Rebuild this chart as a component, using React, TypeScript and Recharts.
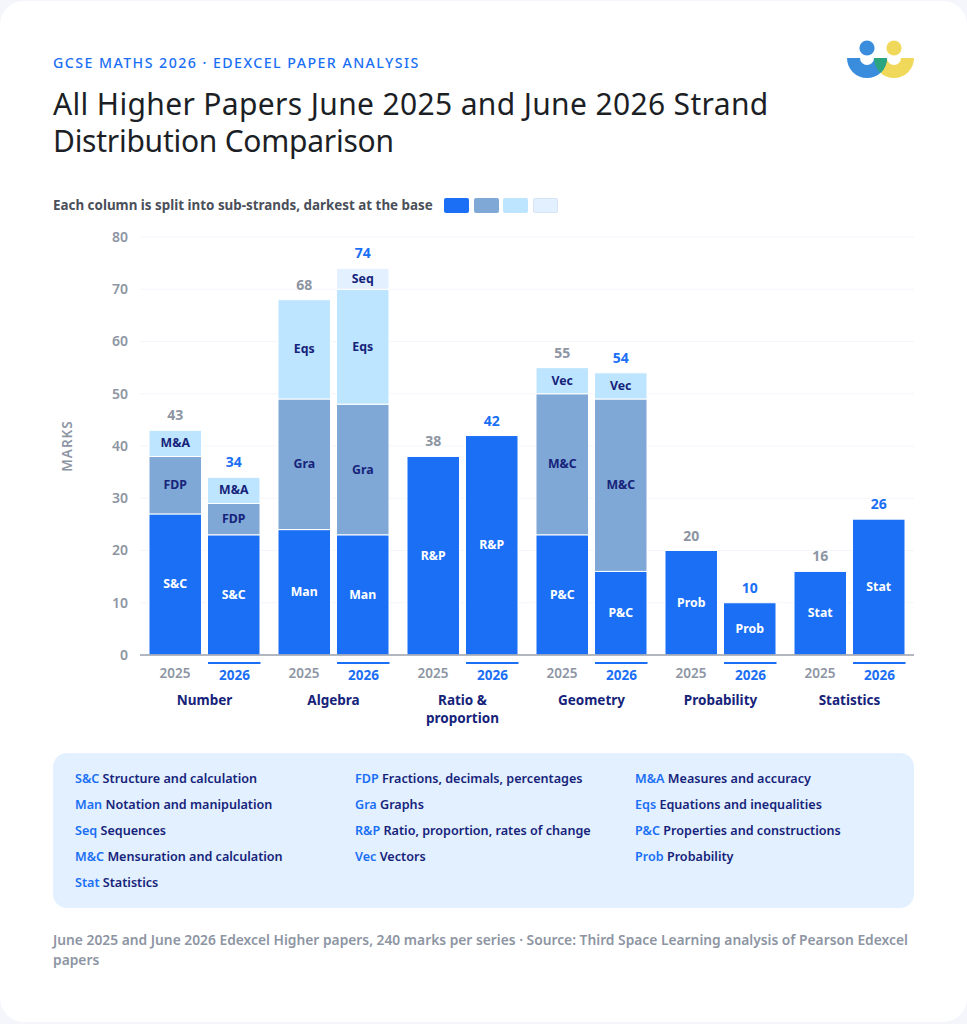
import { Bar, BarChart, CartesianGrid, Rectangle, XAxis, YAxis } from "recharts";

const FONT = "'Noto Sans', sans-serif";
const BLUE = "#1a6ff5";
const NAVY = "#16237a";
const GREY = "#8d95a3";

const categories = [["Number"], ["Algebra"], ["Ratio &", "proportion"], ["Geometry"], ["Probability"], ["Statistics"]];
const years = ["2025", "2026"];
const shades = [BLUE, "#7fa8d6", "#bde5ff", "#e2f0ff"];
const yTicks = [0, 10, 20, 30, 40, 50, 60, 70, 80];

// marks per sub-strand, darkest first, one list per category
const marks2025 = [[27, 11, 5], [24, 25, 19], [38], [23, 27, 5], [20], [16]];
const marks2026 = [[23, 6, 5], [23, 25, 22, 4], [42], [16, 33, 5], [10], [26]];
const names2025 = [["S&C", "FDP", "M&A"], ["Man", "Gra", "Eqs"], ["R&P"], ["P&C", "M&C", "Vec"], ["Prob"], ["Stat"]];
const names2026 = [["S&C", "FDP", "M&A"], ["Man", "Gra", "Eqs", "Seq"], ["R&P"], ["P&C", "M&C", "Vec"], ["Prob"], ["Stat"]];

const keyRows = [
  [["S&C", "Structure and calculation"], ["FDP", "Fractions, decimals, percentages"], ["M&A", "Measures and accuracy"]],
  [["Man", "Notation and manipulation"], ["Gra", "Graphs"], ["Eqs", "Equations and inequalities"]],
  [["Seq", "Sequences"], ["R&P", "Ratio, proportion, rates of change"], ["P&C", "Properties and constructions"]],
  [["M&C", "Mensuration and calculation"], ["Vec", "Vectors"], ["Prob", "Probability"]],
  [["Stat", "Statistics"]],
];

const sum = (list: number[]) => list.reduce((a, b) => a + b, 0);

const rows = categories.map((c, i) => {
  const row: Record<string, unknown> = { name: c.join(" "), index: i };
  shades.forEach((_, s) => {
    row["a" + s] = marks2025[i][s];
    row["b" + s] = marks2026[i][s];
  });
  return row;
});

// one stacked segment, its short name, and the column total on the top segment
function segment(marks: number[][], names: string[][], shade: number, totalColor: string) {
  return (p: any) => {
    const i = p.payload.index;
    const text = names[i][shade];
    if (!text) return <g />;
    const cx = p.x + p.width / 2;
    return (
      <g>
        <Rectangle x={p.x} y={p.y} width={p.width} height={p.height} fill={p.fill} stroke="#fff" strokeWidth={1} />
        <text x={cx} y={p.y + p.height / 2 + 4} textAnchor="middle" fontFamily={FONT} fontSize={12.3} fontWeight={700} fill={shade === 0 ? "#fff" : NAVY}>
          {text}
        </text>
        {shade === names[i].length - 1 && (
          <text x={cx} y={p.y - 10} textAnchor="middle" fontFamily={FONT} fontSize={14} fontWeight={700} fill={totalColor}>
            {sum(marks[i])}
          </text>
        )}
      </g>
    );
  };
}

function CategoryTick(props: any) {
  const { x, y, payload } = props;
  const lines = categories[payload.index];
  return (
    <g fontFamily={FONT}>
      <text x={x - 29.5} y={y + 15} textAnchor="middle" fontSize={13.5} fontWeight={600} fill={GREY}>{years[0]}</text>
      <rect x={x + 3.5} y={y - 1} width={52.5} height={2} fill={BLUE} />
      <text x={x + 30} y={y + 17} textAnchor="middle" fontSize={13.5} fontWeight={700} fill={BLUE}>{years[1]}</text>
      {lines.map((l: string, i: number) => (
        <text key={l} x={x} y={y + 42 + i * 18} textAnchor="middle" fontSize={13.5} fontWeight={700} fill={NAVY}>{l}</text>
      ))}
    </g>
  );
}

function Logo() {
  return (
    <svg width={70} height={42} viewBox="0 0 70 42" style={{ position: "absolute", left: 846, top: 40 }}>
      <circle cx={21} cy={8} r={7.6} fill="#3a8ddd" />
      <circle cx={48} cy={8} r={7.6} fill="#f0d95a" />
      <path d="M28 18 H68 A20 20 0 0 1 28 18 Z M41 18 A7 7 0 0 0 55 18 Z" fill="#f0d95a" fillRule="evenodd" />
      <path d="M1 18 H41 A20 20 0 0 1 1 18 Z M14 18 A7 7 0 0 0 28 18 Z" fill="#3a8ddd" fillRule="evenodd" />
      <path d="M28 18 H41 A20 20 0 0 1 34.5 32.76 A20 20 0 0 1 28 18 Z" fill="#2aa57f" />
    </svg>
  );
}

export default function App() {
  return (
    <div style={{ position: "absolute", left: 0, top: 0, width: 967, height: 1024, background: "#f4f6fc", overflow: "hidden", fontFamily: FONT }}>
      <div style={{ position: "absolute", left: 0, top: 1, width: 967, height: 1021, background: "#fff", borderRadius: 24 }} />
      <div style={{ position: "absolute", left: 53, top: 54, fontSize: 14.2, fontWeight: 500, letterSpacing: 1.45, color: BLUE, lineHeight: "18px", whiteSpace: "nowrap" }}>
        GCSE MATHS 2026 · EDEXCEL PAPER ANALYSIS
      </div>
      <div style={{ position: "absolute", left: 53, top: 85, fontSize: 30, fontWeight: 400, color: "#1c1f26", lineHeight: "37px", whiteSpace: "nowrap" }}>
        <div style={{ letterSpacing: 0.35 }}>All Higher Papers June 2025 and June 2026 Strand</div>
        <div style={{ letterSpacing: -0.26 }}>Distribution Comparison</div>
      </div>
      <Logo />
      <div style={{ position: "absolute", left: 53, top: 196, fontSize: 13.4, fontWeight: 700, color: "#4a4f59", lineHeight: "18px", whiteSpace: "nowrap" }}>
        Each column is split into sub-strands, darkest at the base
      </div>
      {shades.map((c, i) => (
        <div key={c} style={{ position: "absolute", left: 444 + i * 29.6, top: 198, width: 25, height: 15, boxSizing: "border-box", background: c, border: i === 3 ? "1px solid #d6e4f5" : "none", borderRadius: 2 }} />
      ))}

      <div style={{ position: "absolute", left: 0, top: 0 }}>
        <BarChart
          width={967}
          height={740}
          data={rows}
          margin={{ top: 237, right: 53, bottom: 0, left: 80 }}
          barSize={52.5}
          barGap={6}
        >
          <CartesianGrid vertical={false} stroke="#f2f5fa" />
          <XAxis dataKey="name" interval={0} height={85} axisLine={{ stroke: "#9aa0ac", strokeWidth: 1.5 }} tickLine={false} tick={<CategoryTick />} />
          <YAxis
            width={60}
            domain={[0, 80]}
            ticks={yTicks}
            axisLine={false}
            tickLine={false}
            tickMargin={6}
            tick={{ fontFamily: FONT, fontSize: 14, fontWeight: 600, fill: GREY }}
            label={{ value: "MARKS", angle: -90, position: "insideLeft", offset: 0, dx: -13, dy: 0, style: { fontFamily: FONT, fontSize: 13.5, fontWeight: 600, fill: GREY, letterSpacing: 1, textAnchor: "middle" } }}
          />
          {shades.map((c, s) => (
            <Bar key={"a" + s} dataKey={"a" + s} stackId="2025" fill={c} isAnimationActive={false} shape={segment(marks2025, names2025, s, GREY)} />
          ))}
          {shades.map((c, s) => (
            <Bar key={"b" + s} dataKey={"b" + s} stackId="2026" fill={c} isAnimationActive={false} shape={segment(marks2026, names2026, s, BLUE)} />
          ))}
        </BarChart>
      </div>

      <div style={{ position: "absolute", left: 53, top: 753, width: 861, height: 155, background: "#e2f0ff", borderRadius: 14 }}>
        {keyRows.map((row, r) =>
          row.map(([code, text], c) => (
            <div key={code} style={{ position: "absolute", left: 22 + c * 280, top: 16.5 + r * 26, fontSize: 12.6, fontWeight: 600, lineHeight: "18px", color: NAVY, whiteSpace: "nowrap" }}>
              <span style={{ color: BLUE }}>{code}</span> {text}
            </div>
          ))
        )}
      </div>

      <div style={{ position: "absolute", left: 53, top: 930, width: 861, fontSize: 13.8, fontWeight: 600, lineHeight: "20px", color: GREY }}>
        June 2025 and June 2026 Edexcel Higher papers, 240 marks per series · Source: Third Space Learning analysis of Pearson Edexcel papers
      </div>
    </div>
  );
}
